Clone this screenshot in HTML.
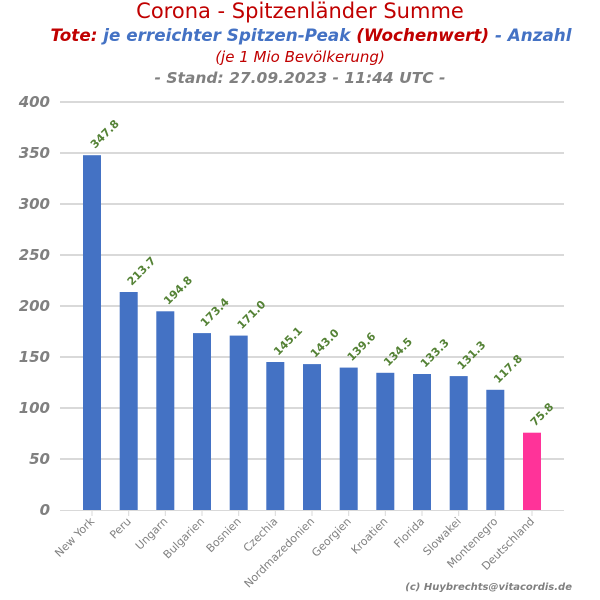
<!DOCTYPE html>
<html><head><meta charset="utf-8"><style>
body{margin:0;background:#fff}
svg{display:block;font-family:"DejaVu Sans","Liberation Sans",sans-serif}
</style></head><body>
<svg width="600" height="600" viewBox="0 0 600 600">
<text x="300" y="18" text-anchor="middle" font-size="21" fill="#c00000">Corona - Spitzenländer Summe</text>
<text x="311" y="41" text-anchor="middle" font-size="16.8" font-weight="bold" font-style="italic"><tspan fill="#c00000">Tote:</tspan><tspan fill="#4472c4"> je erreichter Spitzen-Peak </tspan><tspan fill="#c00000"> (Wochenwert)</tspan><tspan fill="#4472c4"> - Anzahl</tspan></text>
<text x="300" y="62" text-anchor="middle" font-size="15" font-style="italic" fill="#c00000">(je 1 Mio Bevölkerung)</text>
<text x="300" y="83" text-anchor="middle" font-size="15.5" font-weight="bold" font-style="italic" fill="#808080">- Stand: 27.09.2023 - 11:44 UTC -</text>
<g stroke="#d9d9d9" stroke-width="2">
<line x1="60" x2="564" y1="102" y2="102"/><line x1="60" x2="564" y1="153" y2="153"/><line x1="60" x2="564" y1="204" y2="204"/><line x1="60" x2="564" y1="255" y2="255"/><line x1="60" x2="564" y1="306" y2="306"/><line x1="60" x2="564" y1="357" y2="357"/><line x1="60" x2="564" y1="408" y2="408"/><line x1="60" x2="564" y1="459" y2="459"/>
</g>
<line x1="60" x2="564" y1="510.5" y2="510.5" stroke="#d9d9d9" stroke-width="1"/>
<g font-size="15" font-weight="bold" font-style="italic" fill="#808080" text-anchor="end">
<text x="50" y="107">400</text><text x="50" y="158">350</text><text x="50" y="209">300</text><text x="50" y="260">250</text><text x="50" y="311">200</text><text x="50" y="362">150</text><text x="50" y="413">100</text><text x="50" y="464">50</text><text x="50" y="515">0</text>
</g>
<g fill="#4472c4">
<rect x="83" y="155.2" width="18" height="354.8"/>
<rect x="119.7" y="292" width="18" height="218"/>
<rect x="156.3" y="311.3" width="18" height="198.7"/>
<rect x="193" y="333.1" width="18" height="176.9"/>
<rect x="229.7" y="335.6" width="18" height="174.4"/>
<rect x="266.3" y="362" width="18" height="148"/>
<rect x="303" y="364.1" width="18" height="145.9"/>
<rect x="339.7" y="367.6" width="18" height="142.4"/>
<rect x="376.3" y="372.8" width="18" height="137.2"/>
<rect x="413" y="374" width="18" height="136"/>
<rect x="449.7" y="376.1" width="18" height="133.9"/>
<rect x="486.3" y="389.8" width="18" height="120.2"/>
<rect x="523" y="432.7" width="18" height="77.3" fill="#ff3399"/>
</g>
<g stroke="#d9d9d9">
<line x1="92" x2="92" y1="511" y2="516"/><line x1="128.7" x2="128.7" y1="511" y2="516"/><line x1="165.3" x2="165.3" y1="511" y2="516"/><line x1="202" x2="202" y1="511" y2="516"/><line x1="238.7" x2="238.7" y1="511" y2="516"/><line x1="275.3" x2="275.3" y1="511" y2="516"/><line x1="312" x2="312" y1="511" y2="516"/><line x1="348.7" x2="348.7" y1="511" y2="516"/><line x1="385.3" x2="385.3" y1="511" y2="516"/><line x1="422" x2="422" y1="511" y2="516"/><line x1="458.7" x2="458.7" y1="511" y2="516"/><line x1="495.3" x2="495.3" y1="511" y2="516"/><line x1="532" x2="532" y1="511" y2="516"/>
</g>
<g font-size="11" font-weight="bold" fill="#548235">
<text transform="translate(95,149) rotate(-45)">347.8</text>
<text transform="translate(131.7,286) rotate(-45)">213.7</text>
<text transform="translate(168.3,305.3) rotate(-45)">194.8</text>
<text transform="translate(205,327.1) rotate(-45)">173.4</text>
<text transform="translate(241.7,329.6) rotate(-45)">171.0</text>
<text transform="translate(278.3,356) rotate(-45)">145.1</text>
<text transform="translate(315,358.1) rotate(-45)">143.0</text>
<text transform="translate(351.7,361.6) rotate(-45)">139.6</text>
<text transform="translate(388.3,366.8) rotate(-45)">134.5</text>
<text transform="translate(425,368) rotate(-45)">133.3</text>
<text transform="translate(461.7,370.1) rotate(-45)">131.3</text>
<text transform="translate(498.3,383.8) rotate(-45)">117.8</text>
<text transform="translate(535,426.7) rotate(-45)">75.8</text>
</g>
<g font-size="11" fill="#808080" text-anchor="end">
<text transform="translate(95,522) rotate(-45)">New York</text>
<text transform="translate(131.7,522) rotate(-45)">Peru</text>
<text transform="translate(168.3,522) rotate(-45)">Ungarn</text>
<text transform="translate(205,522) rotate(-45)">Bulgarien</text>
<text transform="translate(241.7,522) rotate(-45)">Bosnien</text>
<text transform="translate(278.3,522) rotate(-45)">Czechia</text>
<text transform="translate(315,522) rotate(-45)">Nordmazedonien</text>
<text transform="translate(351.7,522) rotate(-45)">Georgien</text>
<text transform="translate(388.3,522) rotate(-45)">Kroatien</text>
<text transform="translate(425,522) rotate(-45)">Florida</text>
<text transform="translate(461.7,522) rotate(-45)">Slowakei</text>
<text transform="translate(498.3,522) rotate(-45)">Montenegro</text>
<text transform="translate(535,522) rotate(-45)">Deutschland</text>
</g>
<text x="572" y="590" text-anchor="end" font-size="10" font-weight="bold" font-style="italic" fill="#808080">(c) Huybrechts@vitacordis.de</text>
</svg>
</body></html>
